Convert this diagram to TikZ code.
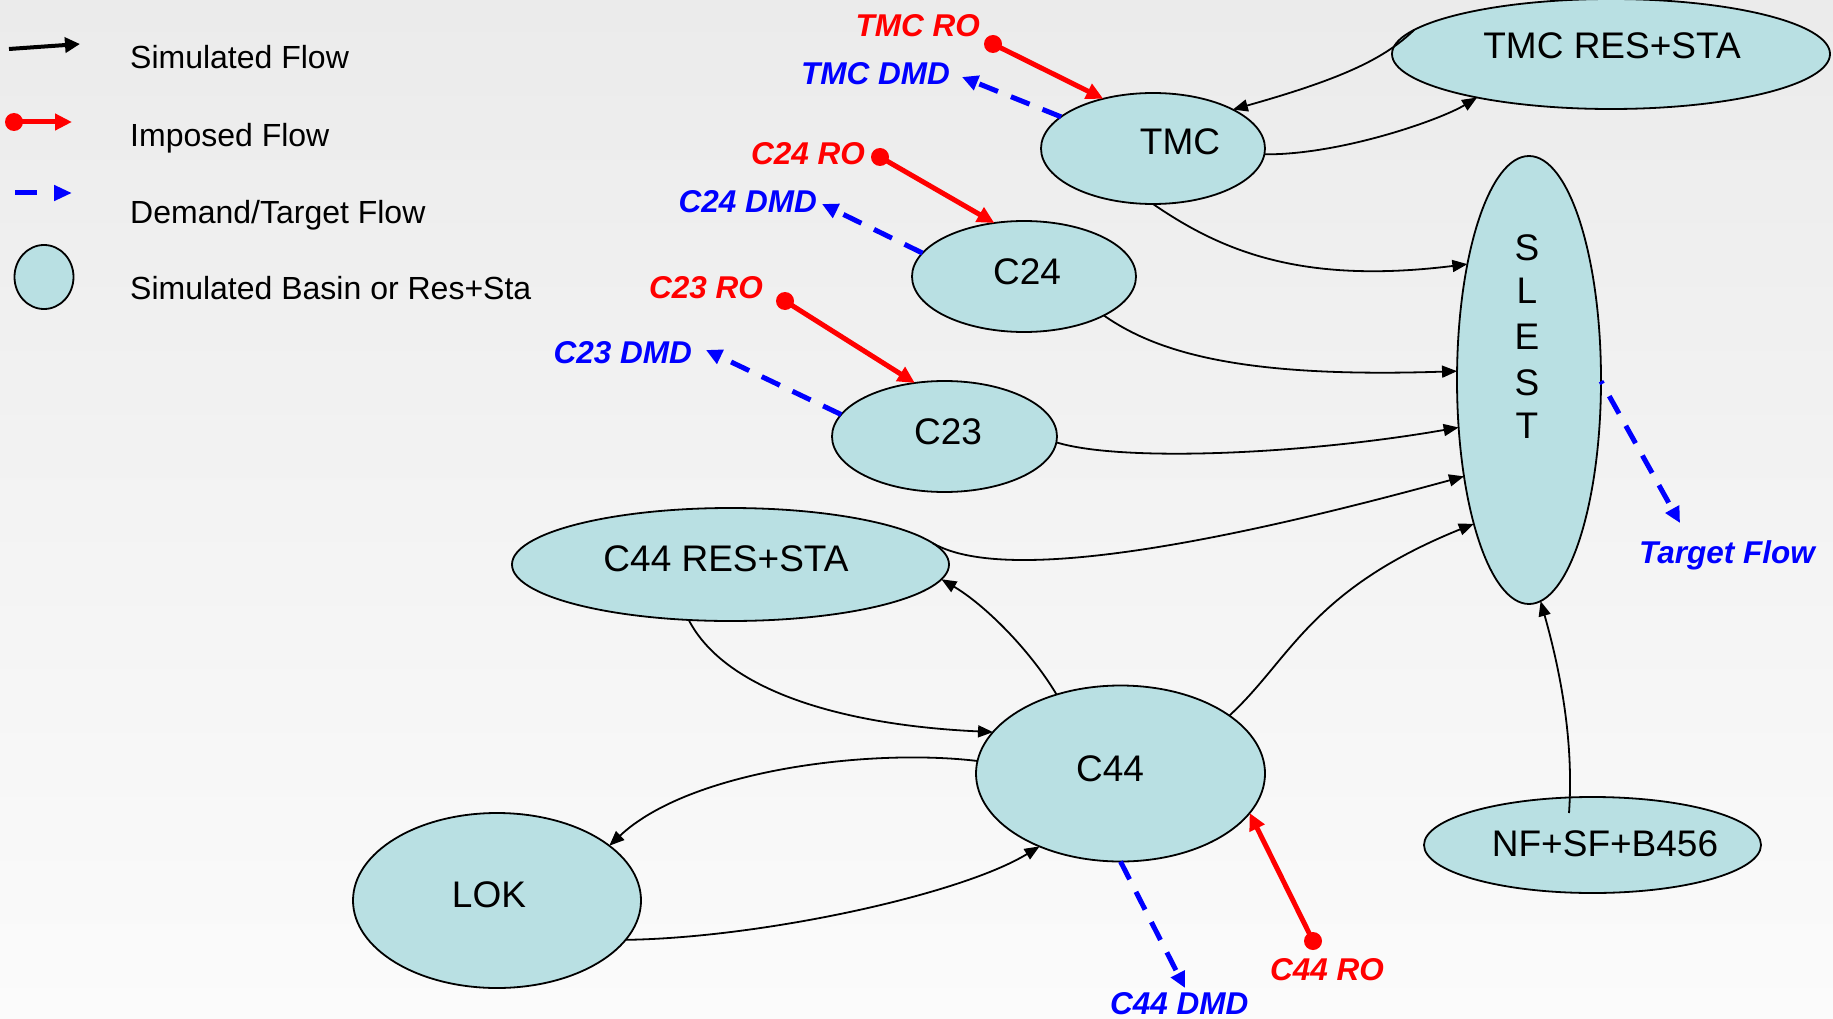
\documentclass[tikz,border=0pt]{standalone}
\usepackage{fontspec}
\setmainfont{Liberation Sans}
\usetikzlibrary{arrows.meta,shapes.geometric}
\definecolor{basin}{RGB}{185,224,227}
\definecolor{bgtop}{RGB}{235,235,235}
\definecolor{bgbot}{RGB}{251,251,251}
\begin{document}
\begin{tikzpicture}[x=1pt,y=-1pt,
  basinshape/.style={ellipse, draw=black, line width=1.8pt, fill=basin, inner sep=0pt, outer sep=0pt},
  flow/.style={draw=black, line width=1.8pt, -{Triangle[length=15pt,width=12pt]}},
  imposed/.style={draw=red, line width=5pt, -{Triangle[length=17pt,width=16pt]}},
  demand/.style={draw=blue, line width=5pt, dash pattern=on 20pt off 14pt, -{Triangle[length=16pt,width=15pt]}},
  rodot/.style={circle, fill=red, minimum size=18pt, inner sep=0pt},
  nlabel/.style={font=\fontsize{37}{44}\selectfont, inner sep=0pt, anchor=base},
  tagred/.style={text=red, font=\fontsize{31.5}{37}\selectfont\bfseries\itshape, inner sep=0pt},
  tagblue/.style={text=blue, font=\fontsize{31.5}{37}\selectfont\bfseries\itshape, inner sep=0pt},
  legendtext/.style={font=\fontsize{32}{38}\selectfont, inner sep=0pt, anchor=base west},
]
% background
\shade[top color=bgtop, bottom color=bgbot] (0,0) rectangle (1833,1019);
\useasboundingbox (0,0) rectangle (1833,1019);

% ---------- legend ----------
\coordinate (lga) at (9,49);
\coordinate (lgb) at (80,44);
\draw[draw=black, line width=4pt, -{Triangle[length=15pt,width=15pt]}] (lga) -- (lgb);
\node[rodot] (lgdot) at (14,122) {};
\coordinate (lgr) at (72,122);
\draw[imposed] (lgdot.center) -- (lgr);
\coordinate (lgc) at (15,193);
\coordinate (lgd) at (72,193);
\draw[draw=blue, line width=5pt, dash pattern=on 22pt off 40pt, -{Triangle[length=18pt,width=15pt]}] (lgc) -- (lgd);
\node[basinshape, minimum width=59pt, minimum height=64pt] (lgbasin) at (44,277) {};
\node[legendtext] (lt1) at (130,69) {Simulated Flow};
\node[legendtext] (lt2) at (130,147) {Imposed Flow};
\node[legendtext] (lt3) at (130,223) {Demand/Target Flow};
\node[legendtext] (lt4) at (130,299) {Simulated Basin or Res+Sta};

% ---------- basins ----------
\node[basinshape, minimum width=224pt, minimum height=111pt] (tmc) at (1153,148.5) {};
\node[basinshape, minimum width=438pt, minimum height=110pt] (tmcres) at (1611,54) {};
\node[basinshape, minimum width=144pt, minimum height=448pt] (slest) at (1529,380) {};
\node[basinshape, minimum width=224pt, minimum height=111pt] (c24) at (1024,276.5) {};
\node[basinshape, minimum width=225pt, minimum height=111pt] (c23) at (944.5,436.5) {};
\node[basinshape, minimum width=437pt, minimum height=113pt] (c44res) at (730.5,564.5) {};
\node[basinshape, minimum width=289pt, minimum height=176pt] (c44) at (1120.5,773.5) {};
\node[basinshape, minimum width=288pt, minimum height=175pt] (lok) at (497,900.5) {};
\node[basinshape, minimum width=337pt, minimum height=96pt] (nf) at (1592.5,845) {};

% basin labels
\node[nlabel] (tmcl) at (1180,155) {TMC};
\node[nlabel] (tmcresl) at (1612,59) {TMC RES+STA};
\node[nlabel] (c24l) at (1027,284) {C24};
\node[nlabel] (c23l) at (948,444) {C23};
\node[nlabel] (c44resl) at (726,571) {C44 RES+STA};
\node[nlabel] (c44l) at (1110,781) {C44};
\node[nlabel] (lokl) at (489,907) {LOK};
\node[nlabel] (nfl) at (1605,856) {NF+SF+B456};
\node[nlabel] (sl1) at (1527,260) {S};
\node[nlabel] (sl2) at (1527,303) {L};
\node[nlabel] (sl3) at (1527,349) {E};
\node[nlabel] (sl4) at (1527,395) {S};
\node[nlabel] (sl5) at (1527,438) {T};

% ---------- simulated flows ----------
\draw[flow] (tmcres.173.2) .. controls (1385,58) and (1345,78) .. (tmc.26.3);
\draw[flow] (tmc.-3.8) .. controls (1340,155) and (1440,120) .. (tmcres.198);
\draw[flow] (tmc.south) .. controls (1220,250) and (1300,285) .. (slest.118.3);
\draw[flow] (c24.-26.9) .. controls (1160,355) and (1250,378) .. (slest.173.7);
\draw[flow] (c23.-3.3) .. controls (1120,462) and (1300,455) .. (slest.214.4);
\draw[flow] (c44res.6) .. controls (1010,588) and (1250,535) .. (slest.236.3);
\draw[flow] (c44.28.3) .. controls (1290,660) and (1310,590) .. (slest.249);
\draw[flow] ([xshift=-23.5pt,yshift=-16pt]nf.north) .. controls (1574,740) and (1560,670) .. (slest.-87);
\draw[flow] (c44.129.1) .. controls (1030,650) and (985,605) .. (c44res.-4.9);
\draw[flow] (c44res.233.7) .. controls (725,690) and (840,725) .. (c44.162.6);
\draw[flow] (c44.175.4) .. controls (870,748) and (690,770) .. (lok.26.8);
\draw[flow] (lok.-17) .. controls (760,938) and (960,895) .. (c44.222.4);

% ---------- imposed flows ----------
\node[rodot] (tmcro) at (993,44) {};
\draw[imposed] (tmcro.center) -- (tmc.135.9);
\node[tagred, anchor=base east] (tmcrol) at (980,37) {TMC RO};
\node[rodot] (c24ro) at (880,157) {};
\draw[imposed] (c24ro.center) -- (c24.119.2);
\node[tagred, anchor=base east] (c24rol) at (865,165) {C24 RO};
\node[rodot] (c23ro) at (785,301) {};
\draw[imposed] (c23ro.center) -- (c23.119.1);
\node[tagred, anchor=base east] (c23rol) at (763,298) {C23 RO};
\node[rodot] (c44ro) at (1313,941) {};
\draw[imposed] (c44ro.center) -- (c44.-17.1);
\node[tagred, anchor=base west] (c44rol) at (1270,980) {C44 RO};

% ---------- demand / target flows ----------
\coordinate (tmcdmd) at (962,77);
\draw[demand] (tmc.161.5) -- (tmcdmd);
\node[tagblue, anchor=base east] (tmcdmdl) at (950,85) {TMC DMD};
\coordinate (c24dmd) at (822,204);
\draw[demand] (c24.167.9) -- (c24dmd);
\node[tagblue, anchor=base east] (c24dmdl) at (817,213) {C24 DMD};
\coordinate (c23dmd) at (706,350);
\draw[demand] (c23.168.2) -- (c23dmd);
\node[tagblue, anchor=base east] (c23dmdl) at (692,363) {C23 DMD};
\coordinate (c44dmd) at (1185,988);
\draw[demand] (c44.south) -- (c44dmd);
\node[tagblue, anchor=base west] (c44dmdl) at (1110,1014) {C44 DMD};
\coordinate (target) at (1680,523);
\draw[demand, dash pattern=on 3pt off 14pt on 20pt off 14pt on 20pt off 14pt on 20pt off 14pt on 20pt off 14pt] (slest.-1.6) -- (target);
\node[tagblue, anchor=base west] (targetl) at (1639,563) {Target Flow};
\end{tikzpicture}
\end{document}
